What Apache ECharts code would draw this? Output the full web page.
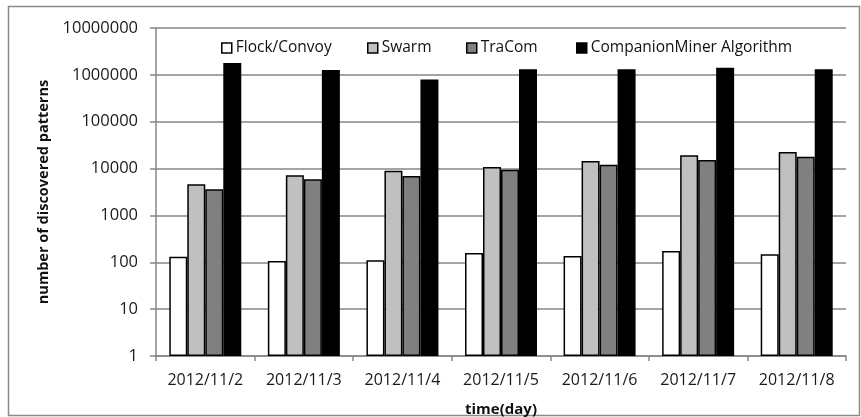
<!DOCTYPE html>
<html>
<head>
<meta charset="utf-8">
<script src="https://cdn.jsdelivr.net/npm/echarts@6/dist/echarts.min.js"></script>
<style>html,body{margin:0;padding:0;background:#fff}#c{width:861px;height:417px}</style>
</head>
<body>
<div id="c"></div>
<script>
const categories = ['2012/11/2','2012/11/3','2012/11/4','2012/11/5','2012/11/6','2012/11/7','2012/11/8'];
const seriesNames = ['Flock/Convoy','Swarm','TraCom','CompanionMiner Algorithm'];
const flockConvoy = [131, 106, 110, 158, 136, 174, 148];
const swarm = [4600, 7200, 9000, 10800, 14500, 19200, 22600];
const traCom = [3600, 5900, 6900, 9400, 12100, 15200, 17900];
const companionMiner = [1800000, 1270000, 800000, 1310000, 1310000, 1420000, 1310000];
const yTicks = [1, 10, 100, 1000, 10000, 100000, 1000000, 10000000];

const font = 'Open Sans';
const colors = ['#ffffff', '#c0c0c0', '#808080', '#000000'];
const data = [flockConvoy, swarm, traCom, companionMiner];
const legendLeft = [221, 367, 466, 576];

const chart = echarts.init(document.getElementById('c'), null, {renderer: 'canvas'});
chart.setOption({
  animation: false,
  backgroundColor: '#fff',
  textStyle: {fontFamily: font},
  graphic: [{
    type: 'rect', shape: {x: 8.5, y: 6.5, width: 851, height: 409},
    style: {fill: 'none', stroke: '#8a8a8a', lineWidth: 1.5}, silent: true, z: -1
  }],
  grid: {left: 156, right: 15, top: 28, bottom: 61, containLabel: false, outerBoundsMode: 'none'},
  legend: seriesNames.map((n, i) => ({
    data: [n],
    left: legendLeft[i], top: 40, padding: 0,
    itemWidth: 10, itemHeight: 10,
    icon: 'rect',
    textStyle: {fontFamily: font, fontSize: 15.5, color: '#111', padding: [0, 0, 0, -1]},
    itemStyle: {borderColor: '#000', borderWidth: 1.5}
  })),
  xAxis: {
    type: 'category', data: categories,
    name: 'time(day)', nameLocation: 'middle', nameGap: 46,
    nameTextStyle: {fontFamily: font, fontSize: 15, fontWeight: 'bold', color: '#111'},
    axisLine: {lineStyle: {color: '#868686', width: 1.5}},
    axisTick: {show: true, length: 5, lineStyle: {color: '#868686', width: 1.5}},
    axisLabel: {fontFamily: font, fontSize: 16, color: '#1a1a1a', margin: 16, interval: 0, hideOverlap: false}
  },
  yAxis: {
    type: 'log', logBase: 10, min: 1, max: 10000000,
    name: 'number of discovered patterns', nameLocation: 'middle', nameGap: 102,
    nameTextStyle: {fontFamily: font, fontSize: 14.5, fontWeight: 'bold', color: '#111'},
    axisLine: {show: true, lineStyle: {color: '#868686', width: 1.5}},
    axisTick: {show: true, length: 6, lineStyle: {color: '#868686', width: 1.5}},
    splitLine: {show: true, lineStyle: {color: '#868686', width: 1.5}},
    axisLabel: {fontFamily: font, fontSize: 16.5, color: '#1a1a1a', margin: 18,
      formatter: v => String(Math.round(v))}
  },
  series: seriesNames.map((n, i) => ({
    name: n, type: 'bar', data: data[i],
    barWidth: 18, barGap: '0%',
    itemStyle: {color: colors[i], borderColor: '#000', borderWidth: 1.5}
  }))
});
</script>
</body>
</html>
